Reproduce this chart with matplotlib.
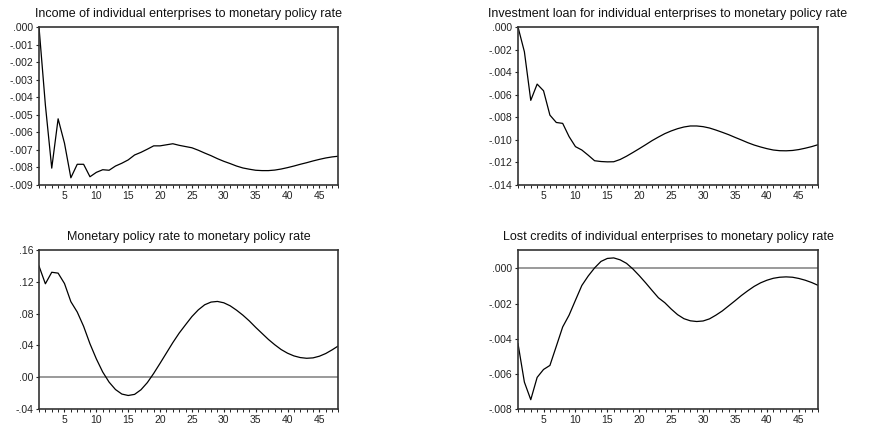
import matplotlib
matplotlib.use('Agg')
import matplotlib.pyplot as plt
import numpy as np
from matplotlib.ticker import FuncFormatter, MultipleLocator, FixedLocator

plt.rcParams['font.family'] = ['Liberation Sans', 'DejaVu Sans']

periods = np.arange(1, 49)

income = [0.0, -0.00444, -0.00804, -0.00523, -0.00662, -0.00859, -0.00782, -0.00782,
          -0.00853, -0.00828, -0.00813, -0.00816, -0.00792, -0.00776, -0.00757, -0.00729,
          -0.00714, -0.00696, -0.00677, -0.00677, -0.00671, -0.00665, -0.00674, -0.00681,
          -0.00688, -0.00702, -0.00718, -0.00733, -0.00750, -0.00765, -0.00778, -0.00792,
          -0.00803, -0.00810, -0.00816, -0.00818, -0.00818, -0.00815, -0.00809, -0.00801,
          -0.00792, -0.00782, -0.00773, -0.00763, -0.00754, -0.00746, -0.00740, -0.00736]

investment = [0.0, -0.00219, -0.00650, -0.00506, -0.00565, -0.00781, -0.00846, -0.00854,
              -0.00971, -0.01060, -0.01090, -0.01136, -0.01185, -0.01192, -0.01195, -0.01194,
              -0.01174, -0.01145, -0.01112, -0.01078, -0.01043, -0.01007, -0.00975, -0.00945,
              -0.00921, -0.00901, -0.00886, -0.00877, -0.00877, -0.00883, -0.00895, -0.00913,
              -0.00933, -0.00954, -0.00978, -0.01001, -0.01025, -0.01046, -0.01063, -0.01078,
              -0.01090, -0.01096, -0.01097, -0.01094, -0.01086, -0.01074, -0.01060, -0.01043]

policy_rate = [0.1398, 0.1175, 0.1320, 0.1309, 0.1178, 0.0950, 0.0820, 0.0640,
               0.0420, 0.0230, 0.0065, -0.0062, -0.0155, -0.0212, -0.0230, -0.0216,
               -0.0158, -0.0068, 0.0048, 0.0175, 0.0305, 0.0435, 0.0555, 0.0660,
               0.0763, 0.0847, 0.0911, 0.0945, 0.0953, 0.0936, 0.0898, 0.0843,
               0.0780, 0.0708, 0.0627, 0.0551, 0.0475, 0.0408, 0.0348, 0.0302,
               0.0268, 0.0247, 0.0238, 0.0243, 0.0264, 0.0298, 0.0344, 0.0395]

lost_credits = [-0.00428, -0.00647, -0.00747, -0.00620, -0.00575, -0.00552, -0.00443, -0.00333,
                -0.00266, -0.00181, -0.00097, -0.00043, 0.00003, 0.00040, 0.00057, 0.00060,
                0.00049, 0.00029, -0.00003, -0.00041, -0.00082, -0.00125, -0.00167, -0.00195,
                -0.00231, -0.00263, -0.00286, -0.00298, -0.00302, -0.00299, -0.00287, -0.00266,
                -0.00242, -0.00213, -0.00184, -0.00154, -0.00127, -0.00102, -0.00082, -0.00067,
                -0.00056, -0.00050, -0.00048, -0.00050, -0.00057, -0.00067, -0.00080, -0.00096]

titles = ['Income of individual enterprises to monetary policy rate',
          'Investment loan for individual enterprises to monetary policy rate',
          'Monetary policy rate to monetary policy rate',
          'Lost credits of individual enterprises to monetary policy rate']
series = [income, investment, policy_rate, lost_credits]
yticks = [np.arange(0, -0.0091, -0.001), np.arange(0, -0.0141, -0.002),
          np.arange(0.16, -0.041, -0.04), np.arange(0, -0.0081, -0.002)]
ylims = [(-0.009, 0.0), (-0.014, 0.0), (-0.04, 0.16), (-0.008, 0.00105)]
decimals = [3, 3, 2, 3]
zero_line = [False, False, True, True]


def eviews_fmt(dec):
    def f(v, pos):
        s = '%.*f' % (dec, v)
        if s.startswith('-0.') and float(s) == 0:
            s = s[1:]
        return s.replace('0.', '.', 1)
    return FuncFormatter(f)


fig = plt.figure(figsize=(8.79, 4.25), dpi=100)
W, H = 879.0, 425.0
# left, top, right, bottom in pixels
boxes = [(39, 27, 338.5, 185), (518, 27, 818, 185),
         (39, 250, 338.5, 409), (518, 250, 818, 409)]

for i in range(4):
    l, t, r, b = boxes[i]
    ax = fig.add_axes([l / W, 1 - b / H, (r - l) / W, (b - t) / H])
    if zero_line[i]:
        ax.axhline(0, color='#7f7f7f', lw=1.1, zorder=1)
    ax.plot(periods, series[i], color='black', lw=0.9, zorder=2)
    ax.set_xlim(1, 48)
    ax.set_ylim(*ylims[i])
    ax.xaxis.set_major_locator(FixedLocator([5, 10, 15, 20, 25, 30, 35, 40, 45]))
    ax.xaxis.set_minor_locator(MultipleLocator(1))
    ax.yaxis.set_major_locator(FixedLocator(yticks[i]))
    ax.yaxis.set_major_formatter(eviews_fmt(decimals[i]))
    ax.tick_params(axis='both', which='major', direction='out', length=2.5, width=0.8,
                   labelsize=7.5, pad=1.5, colors='#222222')
    ax.tick_params(axis='x', which='minor', direction='out', length=2, width=0.7, colors='#222222')
    for s in ax.spines.values():
        s.set_linewidth(1.2)
        s.set_color('#333333')
    ax.set_title(titles[i], fontsize=9, pad=7, color='#111111')

fig.savefig('out.png', dpi=100)
